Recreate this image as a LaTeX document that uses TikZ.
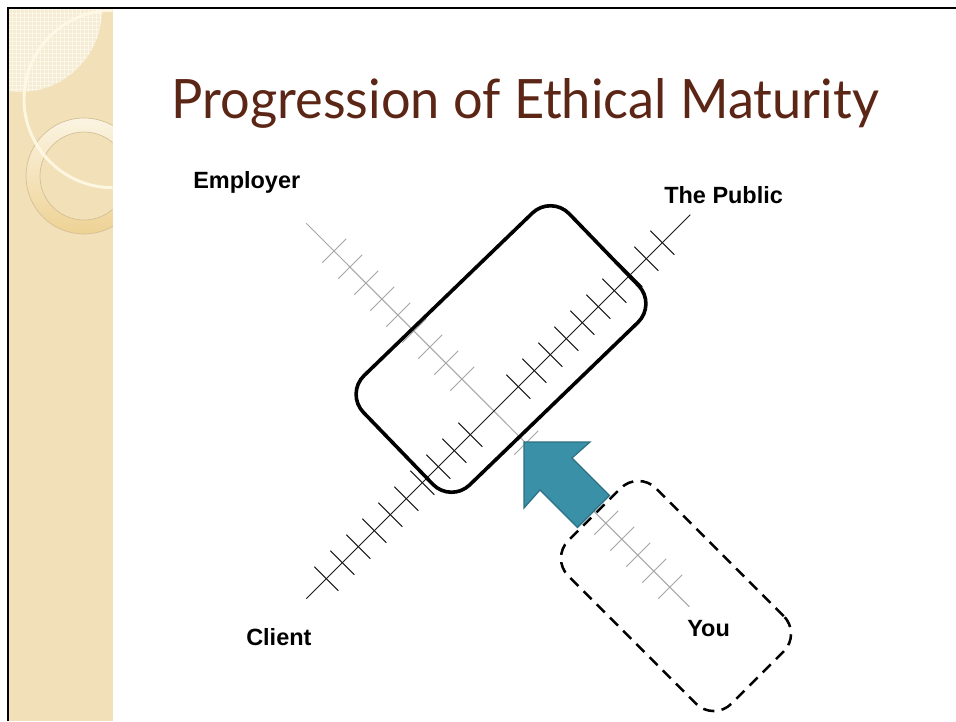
\documentclass[tikz,border=0pt]{standalone}
\usepackage{graphicx}
\usepackage{fontspec}
\setmainfont{Liberation Sans}
\newfontfamily\titlefont{Lato}
\usetikzlibrary{calc,patterns}
\definecolor{titlebrown}{RGB}{92,38,22}
\definecolor{stripbeige}{RGB}{241,224,184}
\definecolor{patchbeige}{RGB}{246,236,210}
\definecolor{ringlight}{RGB}{251,244,226}
\definecolor{ringdark}{RGB}{238,210,148}
\definecolor{ringedge}{RGB}{210,190,150}
\definecolor{arcwhite}{RGB}{255,249,230}
\definecolor{arrowteal}{RGB}{58,144,166}
\definecolor{arrowedge}{RGB}{44,112,132}
\definecolor{axisgray}{RGB}{165,165,165}

\begin{document}
\begin{tikzpicture}[x=0.75pt,y=-0.75pt,
		axislabel/.style={anchor=base west,inner sep=0pt,font=\fontsize{17.6}{20}\selectfont\bfseries},
		blacktick/.style={line width=0.75pt,black!90},
		graytick/.style={line width=0.75pt,axisgray}]
		%%%%% START %%%%%
		\useasboundingbox (0,0) rectangle (956,721);
		\fill[white] (0,0) rectangle (956,721);
		
		% left strip
		\fill[stripbeige] (9,9) rectangle (112.7,721);
		\begin{scope}
			\clip (9,9) rectangle (112.7,721);
			\fill[patchbeige] (20,10) circle (82);
			\fill[pattern=grid, pattern color=white, opacity=0.5] (20,10) circle (82);
			\shade[top color=ringlight, bottom color=ringdark, even odd rule] (84,176) circle (58) (84,176) circle (44);
			\draw[ringedge, line width=0.5pt] (84,176) circle (58) (84,176) circle (44);
			\draw[arcwhite, line width=2.2pt, opacity=0.9] (112.7,99) circle (88.7);
		\end{scope}
		\draw[line width=1.5pt] (8,721) -- (8,8) -- (956,8);
		
		% title
		\node[anchor=base west, inner sep=0pt, text=titlebrown] (title) at (171.7,118.3) {\resizebox{530pt}{30pt}{\titlefont Progression of Ethical Maturity}};
		
		% axes
		\coordinate (O) at (494.3,410.7);
		\coordinate (client) at ($(O)+(-188,188)$);
		\coordinate (public) at ($(O)+(196,-196)$);
		\coordinate (employer) at ($(O)+(-188,-187.4)$);
		\coordinate (you) at ($(O)+(195,196)$);
		\draw[axisgray, line width=0.75pt] (employer) -- (you);
		\draw[black!90, line width=0.75pt] (client) -- (public);
		\foreach \k in {1.5,2.5,...,10.5}{
			\draw[blacktick] ($(O)+(16*\k,-16*\k)+(-12,-12)$) -- ++(24,24);
			\draw[blacktick] ($(O)+(-16*\k,16*\k)+(-12,-12)$) -- ++(24,24);
		}
		\foreach \k in {2,...,10}
			\draw[graytick] ($(O)+(-16*\k,-16*\k)+(-12,12)$) -- ++(24,-24);
		\foreach \k in {2,...,11}
			\draw[graytick] ($(O)+(16*\k,16*\k)+(-12,12)$) -- ++(24,-24);
		
		% boxes
		\node[draw, line width=2.7pt, rounded corners=19.5pt, minimum width=214.5pt, minimum height=114pt, inner sep=0pt, rotate=44] (focus) at (501,349) {};
		\node[draw, line width=1.9pt, dash pattern=on 8.5pt off 5.5pt, rounded corners=18.75pt, minimum width=173pt, minimum height=93pt, inner sep=0pt, rotate=-45] (self) at (676,596) {};
		
		% arrow
		\draw[fill=arrowteal, draw=arrowedge, line width=0.9pt, line join=miter] (524,442) -- (590,442) -- (572,458) -- (609.5,495.5) -- (577.5,527.5) -- (540,490) -- (524,508) -- cycle;
		
		% labels
		\node[axislabel] (employerlabel) at (193,188) {Employer};
		\node[axislabel] (publiclabel) at (664,203) {The Public};
		\node[axislabel] (clientlabel) at (246,645) {Client};
		\node[axislabel] (youlabel) at (687,636) {You};
		%%%%% END %%%%%
	\end{tikzpicture}
\end{document}
